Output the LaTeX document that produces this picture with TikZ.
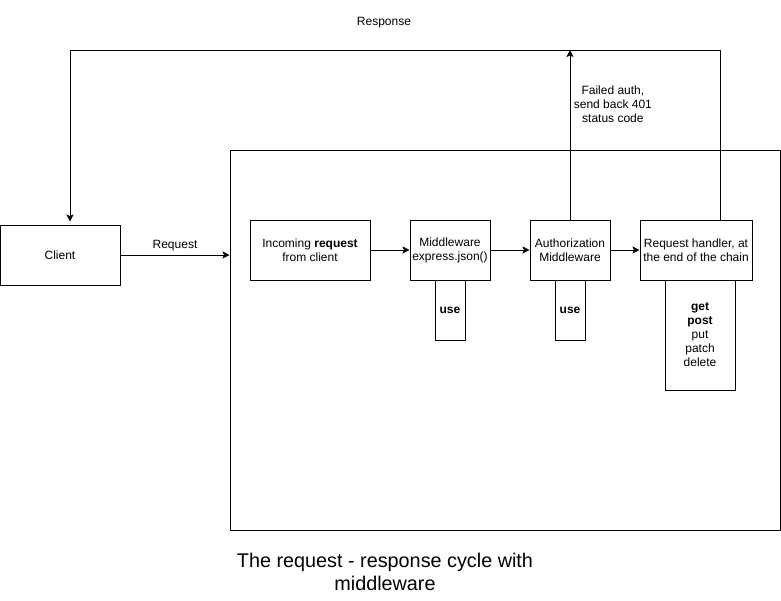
\documentclass[tikz,border=0pt]{standalone}
\usepackage{fontspec}
\setmainfont{Liberation Sans}
\usetikzlibrary{arrows.meta,calc}

\begin{document}
\begin{tikzpicture}[x=1pt,y=-1pt,font=\fontsize{12}{14}\selectfont]
\tikzset{B/.style={draw,line width=1pt,inner sep=0,align=center},
A/.style={line width=1pt,-{Stealth[length=7pt,width=7pt,inset=1.5pt]}}
}
\useasboundingbox (0,0) rectangle (781,600);

% The app box and the chain inside it
\node(app)[B,minimum width=550pt,minimum height=380pt] at (505,340){};
\node(client)[B,minimum width=120pt,minimum height=60pt] at (60,255){Client};
\node(incoming)[B,minimum width=120pt,minimum height=60pt] at (310,250){Incoming \textbf{request}\\from client};
\node(json)[B,minimum width=80pt,minimum height=60pt] at (450,250){Middleware\\express.json()};
\node(use1)[B,minimum width=30pt,minimum height=60pt] at (450,310){\textbf{use}};
\node(auth)[B,minimum width=80pt,minimum height=60pt] at (570,250){Authorization\\Middleware};
\node(use2)[B,minimum width=30pt,minimum height=60pt] at (570,310){\textbf{use}};
\node(handler)[B,minimum width=112pt,minimum height=60pt] at (696,250){Request handler, at\\the end of the chain};
\node(methods)[B,minimum width=70pt,minimum height=110pt] at (700,335){\textbf{get}\\\textbf{post}\\put\\patch\\delete};

% Request
\draw[A] (client.east) -- (client.east -| app.west) node[midway,above]{Request};
\draw[A] (incoming) -- (json);
\draw[A] (json) -- (auth);
\draw[A] (auth) -- (handler);

% Failed auth
\coordinate(fail) at (570,50);
\draw[A] (auth.north) -- (fail) node[pos=.68,right,align=center]{Failed auth,\\send back 401\\status code};

% Response
\coordinate(r1) at (720,50);
\coordinate(r2) at (70,50);
\draw[A] (handler.north -| r1) -- (r1) -- (r2) -- ($(r2 |- client.north)+(0,-3)$);
\node(response) at (384,23){Response};

% Title
\node(title)[font=\fontsize{19.8}{23}\selectfont,align=center] at (385,572){The request - response cycle with\\middleware};

\end{tikzpicture}
\end{document}
